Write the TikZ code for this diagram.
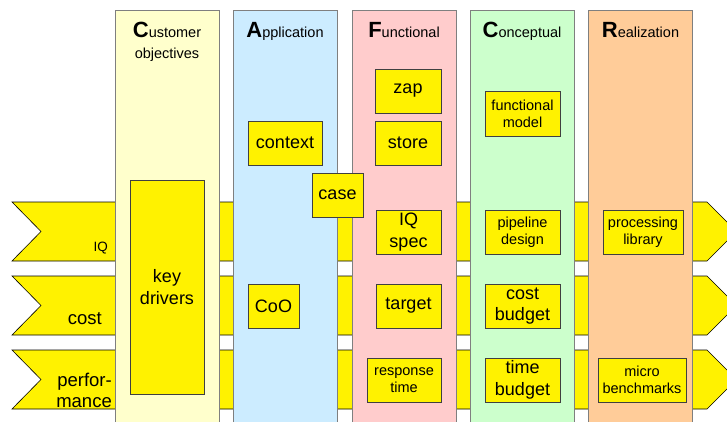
\documentclass[tikz,border=0pt]{standalone}
\usepackage{fontspec}
\setmainfont{Liberation Sans}
\usepackage{tikz}

\definecolor{custfill}{HTML}{FFFFCC}
\definecolor{appfill}{HTML}{CCECFF}
\definecolor{funcfill}{HTML}{FFCCCC}
\definecolor{concfill}{HTML}{CCFFCC}
\definecolor{realfill}{HTML}{FFCC99}
\definecolor{colline}{HTML}{7F7F7F}
\definecolor{boxline}{HTML}{404040}

\newcommand{\initial}[1]{{\fontsize{22}{22}\selectfont\bfseries #1}}

\tikzset{
	column/.style={draw=colline, line width=0.8pt, minimum width=104, minimum height=420, anchor=north, inner sep=0},
	coltitle/.style={anchor=north, inner sep=0, align=center, font=\fontsize{14.5}{20.5}\selectfont},
	band/.style={fill=yellow, draw=black, line width=0.6pt},
	bandlabel/.style={anchor=east, inner sep=0, align=right, font=\fontsize{18.5}{21}\selectfont},
	box/.style={draw=boxline, fill=yellow, line width=0.8pt, inner sep=0, align=center, font=\fontsize{18}{21.5}\selectfont},
	smallbox/.style={box, font=\fontsize{14.5}{17}\selectfont}
}

\begin{document}
\begin{tikzpicture}[x=1pt, y=-1pt]
	\useasboundingbox (0,0) rectangle (727,422);
	\clip (0,0) rectangle (727,422);

	% key driver bands
	\draw[band] (12,202) -- (41,231.5) -- (12,261) -- (707,261) -- (736.5,231.5) -- (707,202) -- cycle;
	\draw[band] (12,276) -- (41,305.5) -- (12,335) -- (707,335) -- (736.5,305.5) -- (707,276) -- cycle;
	\draw[band] (12,350) -- (41,379.5) -- (12,409) -- (707,409) -- (736.5,379.5) -- (707,350) -- cycle;

	\node[bandlabel, font=\fontsize{13.5}{16}\selectfont] (iq) at (108,248.5) {IQ};
	\node[bandlabel] (cost) at (102,319) {cost};
	\node[bandlabel] (perf) at (112,390) {perfor-\\mance};

	% CAFCR columns
	\node[column, fill=custfill] (cust) at (167,10)   {};
	\node[column, fill=appfill]  (app)  at (285,10)   {};
	\node[column, fill=funcfill] (func) at (404,10)   {};
	\node[column, fill=concfill] (conc) at (522,10)   {};
	\node[column, fill=realfill] (real) at (640.5,10) {};

	\node[coltitle] (custtitle) at (167,22)   {\initial{C}ustomer\\objectives};
	\node[coltitle] (apptitle)  at (285,22)   {\initial{A}pplication};
	\node[coltitle] (functitle) at (404,22)   {\initial{F}unctional};
	\node[coltitle] (conctitle) at (522,22)   {\initial{C}onceptual};
	\node[coltitle] (realtitle) at (640.5,22) {\initial{R}ealization};

	% customer objectives
	\node[box, minimum width=74, minimum height=214] (keydrv) at (167,287) {key\\drivers};

	% application
	\node[box, minimum width=74, minimum height=44] (context) at (285,143)   {context};
	\node[box, minimum width=51, minimum height=44] (coo)     at (273.5,306) {CoO};

	% functional
	\node[box, minimum width=66, minimum height=44] (zap)    at (408,91)    {zap};
	\node[box, minimum width=66, minimum height=44] (store)  at (408,143)   {store};
	\node[box, minimum width=65, minimum height=44] (iqspec) at (408.5,232) {IQ\\spec};
	\node[box, minimum width=65, minimum height=44] (target) at (408.5,306) {target};
	\node[smallbox, minimum width=74, minimum height=44] (resptime) at (404,380) {response\\time};

	% conceptual
	\node[smallbox, minimum width=75, minimum height=45] (funcmodel) at (522.5,113.5) {functional\\model};
	\node[smallbox, minimum width=75, minimum height=44] (pipeline)  at (522.5,232)   {pipeline\\design};
	\node[box, minimum width=75, minimum height=44] (costbudget) at (522.5,306) {cost\\budget};
	\node[box, minimum width=75, minimum height=44] (timebudget) at (522.5,380) {time\\budget};

	% realization
	\node[smallbox, minimum width=80, minimum height=44] (proclib)    at (643,232) {processing\\library};
	\node[smallbox, minimum width=88, minimum height=44] (microbench) at (642,380) {micro\\benchmarks};

	% use case straddles application and functional
	\node[box, minimum width=51, minimum height=44] (case) at (337.5,195) {case};
\end{tikzpicture}
\end{document}
